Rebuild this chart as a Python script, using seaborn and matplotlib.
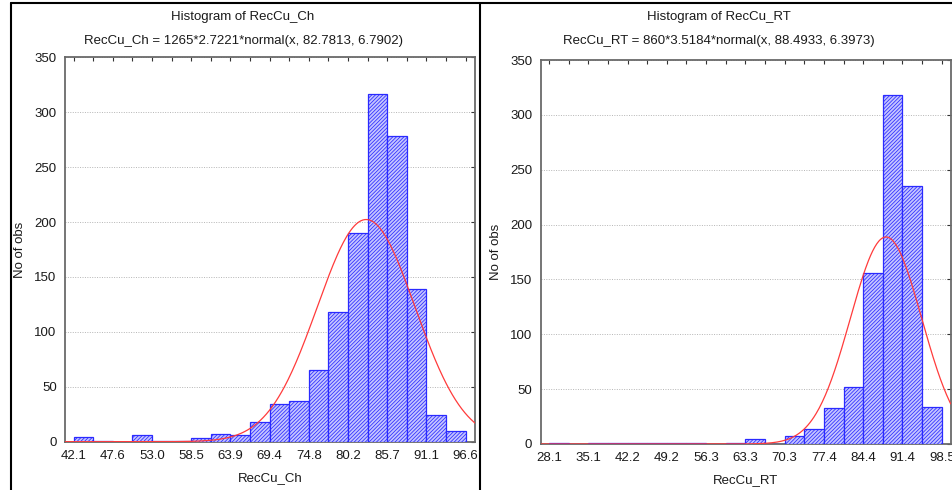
import numpy as np
import pandas as pd
import matplotlib
matplotlib.use("Agg")
import matplotlib.pyplot as plt
import seaborn as sns
from matplotlib.lines import Line2D

# Contagens por classe
ch_counts = [4, 1, 0, 6, 1, 1, 3, 7, 6, 18, 34, 37, 65, 118, 190, 317, 278, 139, 24, 10]
rt_counts = [1, 0, 1, 1, 1, 1, 1, 1, 0, 1, 5, 0, 7, 14, 33, 52, 156, 318, 235, 34]

# Parâmetros das classes e do ajuste normal (do título)
ch_start, ch_width, ch_n, ch_mean, ch_sd = 42.14, 2.7221, 1265, 82.7813, 6.7902
rt_start, rt_width, rt_n, rt_mean, rt_sd = 28.11, 3.5184, 860, 88.4933, 6.3973

ch_ticklabels = ['42.1', '47.6', '53.0', '58.5', '63.9', '69.4', '74.8', '80.2', '85.7', '91.1', '96.6']
rt_ticklabels = ['28.1', '35.1', '42.2', '49.2', '56.3', '63.3', '70.3', '77.4', '84.4', '91.4', '98.5']
y_ticks = [0, 50, 100, 150, 200, 250, 300, 350]

sns.set_style('white')
plt.rcParams['font.family'] = ['Liberation Sans', 'DejaVu Sans']
plt.rcParams['hatch.linewidth'] = 0.55
plt.rcParams['text.color'] = '#1a1a1a'
plt.rcParams['axes.labelcolor'] = '#1a1a1a'
plt.rcParams['xtick.labelcolor'] = '#1a1a1a'
plt.rcParams['ytick.labelcolor'] = '#1a1a1a'

fig = plt.figure(figsize=(9.53, 4.9), dpi=100)
ax1 = fig.add_axes([0.06821, 0.09857, 0.43022, 0.78449])
ax2 = fig.add_axes([0.56737, 0.09388, 0.43022, 0.78367])


def draw_hist(ax, counts, start, width, n, mean, sd, ticklabels, xlabel, xlim):
    edges = start + width * np.arange(len(counts) + 1)
    df = pd.DataFrame({'x': (edges[:-1] + edges[1:]) / 2, 'n': counts})
    sns.histplot(data=df, x='x', weights='n', binwidth=width,
                 binrange=(edges[0], edges[-1]), ax=ax, stat='count',
                 color='#c4c4ff', edgecolor='#2a2aff', linewidth=0.9,
                 hatch='/////////', alpha=1, zorder=2.6)
    # curva normal ajustada
    xs = np.linspace(xlim[0], xlim[1], 400)
    ys = n * width * np.exp(-0.5 * ((xs - mean) / sd) ** 2) / (sd * np.sqrt(2 * np.pi))
    sns.lineplot(x=xs, y=ys, ax=ax, color='#ff3b3b', linewidth=0.9, zorder=2.7)

    ax.set_xlim(xlim)
    ax.set_ylim(0, 350)
    ax.set_xticks(edges)
    labels = []
    for i in range(len(edges)):
        labels.append(ticklabels[i // 2] if i % 2 == 0 else '')
    ax.set_xticklabels(labels)
    ax.set_yticks(y_ticks)
    ax.tick_params(axis='both', direction='in', length=3, width=0.8, color='#333333',
                   labelsize=9.5, pad=6, top=True, right=True)
    ax.grid(axis='y', linestyle=(0, (1, 1.5)), color='#b5b5b5', linewidth=0.7, zorder=0)
    ax.set_axisbelow(True)
    for s in ax.spines.values():
        s.set_color('#6a6a6a')
        s.set_linewidth(1.3)
    ax.set_xlabel(xlabel, fontsize=9.5, labelpad=7)
    ax.set_ylabel('No of obs', fontsize=9.5, labelpad=6)


draw_hist(ax1, ch_counts, ch_start, ch_width, ch_n, ch_mean, ch_sd,
          ch_ticklabels, 'RecCu_Ch', (40.95, 97.9))
draw_hist(ax2, rt_counts, rt_start, rt_width, rt_n, rt_mean, rt_sd,
          rt_ticklabels, 'RecCu_RT', (26.62, 100.08))

# Títulos
fig.text(0.255, 0.9653, 'Histogram of RecCu_Ch', ha='center', va='center', fontsize=9.5)
fig.text(0.255, 0.9163, 'RecCu_Ch = 1265*2.7221*normal(x, 82.7813, 6.7902)',
         ha='center', va='center', fontsize=9.5)
fig.text(0.7545, 0.9653, 'Histogram of RecCu_RT', ha='center', va='center', fontsize=9.5)
fig.text(0.7545, 0.9163, 'RecCu_RT = 860*3.5184*normal(x, 88.4933, 6.3973)',
         ha='center', va='center', fontsize=9.5)

# Moldura dos painéis
W, H = 953, 490
fig.add_artist(Line2D([11 / W, 1], [1 - 3 / H, 1 - 3 / H], color='black', linewidth=1.5))
fig.add_artist(Line2D([11.5 / W, 11.5 / W], [0, 1 - 3 / H], color='black', linewidth=1.5))
fig.add_artist(Line2D([480.5 / W, 480.5 / W], [0, 1 - 3 / H], color='black', linewidth=1.5))

fig.savefig('out.png', dpi=100)
